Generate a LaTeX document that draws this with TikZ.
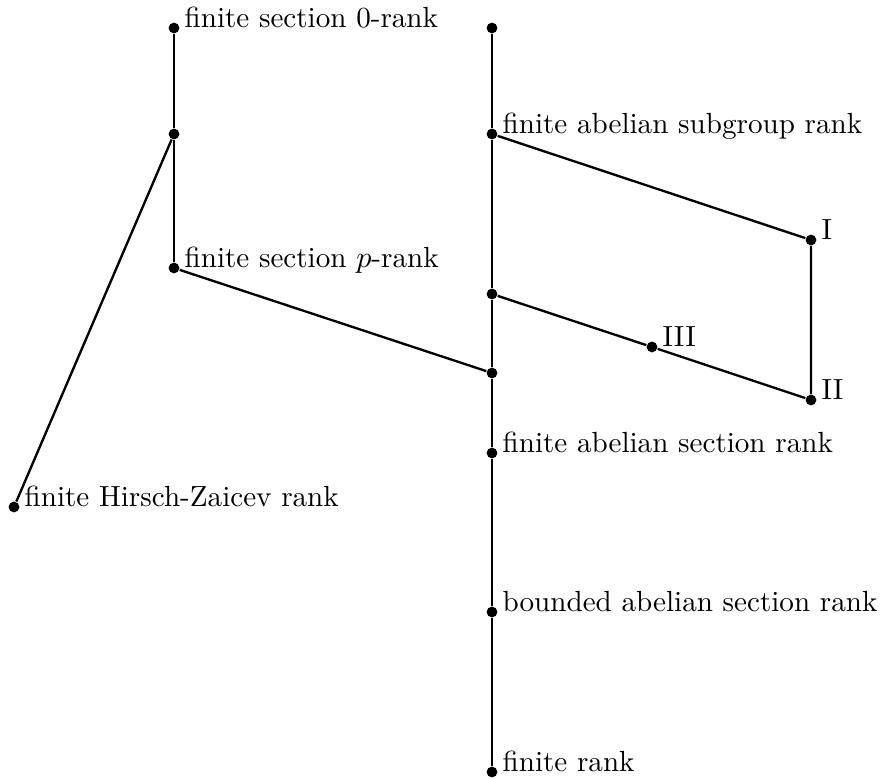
\documentclass[tikz,border=0pt]{standalone}
\usepackage{tikz}
\begin{document}
\begin{tikzpicture}[x=0.3623pt, y=-0.3623pt,
    dot/.style = {circle, fill, inner sep=0pt, minimum size=3.9pt},
    lab/.style = {anchor=base west, inner sep=0pt, xshift=1.5pt,
                  font=\fontsize{10.55pt}{12.6pt}\selectfont}]
    \useasboundingbox (0,0) rectangle (880,780);
    \node at (174,28)  [dot, label={[lab]0:finite section 0-rank}] (a1) {};
    \node at (174,134) [dot] (a2) {};
    \node at (174,268) [dot, label={[lab]0:finite section $p$-rank}] (a3) {};
    \node at (14,507)  [dot, label={[lab]0:finite Hirsch-Zaicev rank}] (h) {};
    \node at (492,28)  [dot] (b1) {};
    \node at (492,134) [dot, label={[lab]0:finite abelian subgroup rank}] (b2) {};
    \node at (492,294) [dot] (b3) {};
    \node at (492,373) [dot] (b4) {};
    \node at (492,453) [dot, label={[lab]0:finite abelian section rank}] (b5) {};
    \node at (492,612) [dot, label={[lab]0:bounded abelian section rank}] (b6) {};
    \node at (492,772) [dot, label={[lab]0:finite rank}] (b7) {};
    \node at (811,240) [dot, label={[lab]0:I}] (i1) {};
    \node at (811,400) [dot, label={[lab]0:II}] (i2) {};
    \node at (652,347) [dot, label={[lab]0:III}] (i3) {};
    \draw[line width=0.85pt] (a1) -- (a2) -- (a3);
    \draw[line width=0.85pt] (a2) -- (h);
    \draw[line width=0.85pt] (a3) -- (b4);
    \draw[line width=0.85pt] (b1) -- (b2) -- (b3) -- (b4) -- (b5) -- (b6) -- (b7);
    \draw[line width=0.85pt] (b2) -- (i1) -- (i2);
    \draw[line width=0.85pt] (b3) -- (i3) -- (i2);
\end{tikzpicture}
\end{document}
